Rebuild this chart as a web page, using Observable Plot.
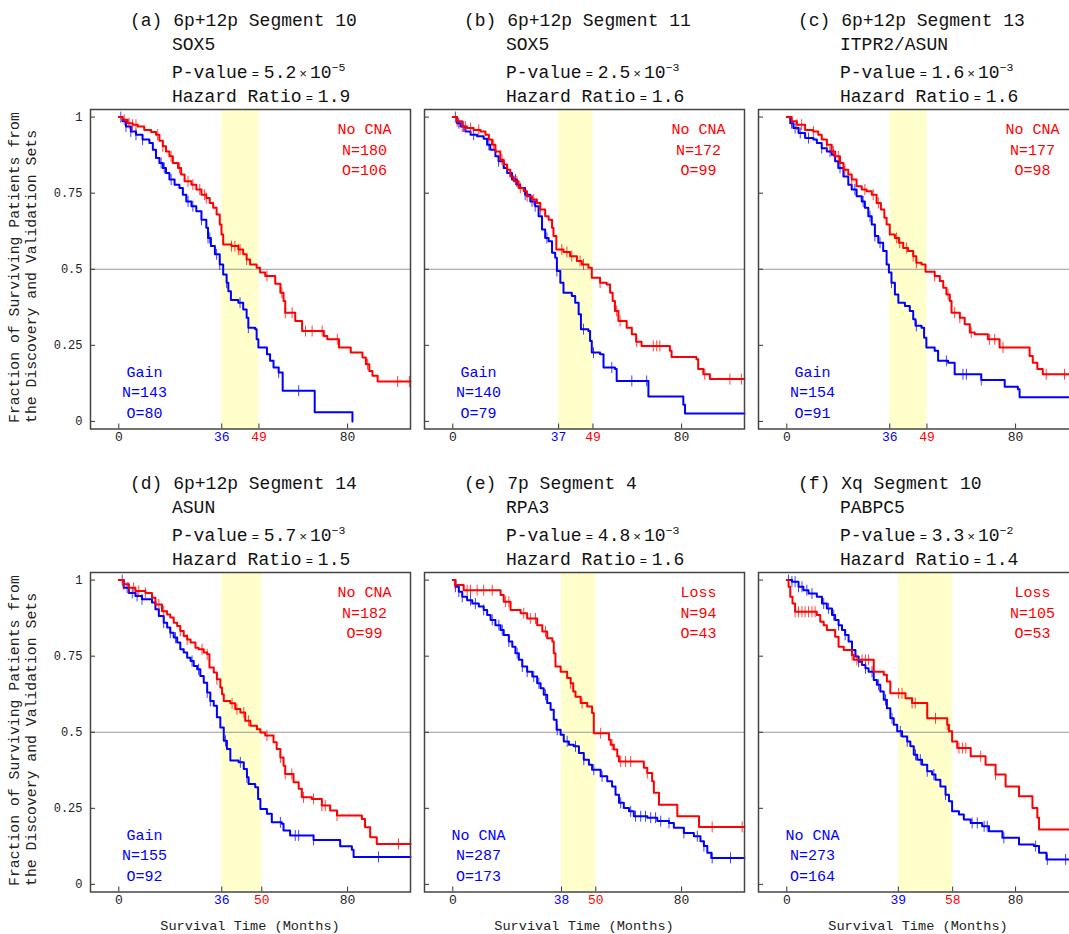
<!DOCTYPE html>
<html>
<head>
<meta charset="utf-8">
<script src="https://cdn.jsdelivr.net/npm/d3@7"></script>
<script src="https://cdn.jsdelivr.net/npm/@observablehq/plot@0.6"></script>
<style>
  html, body { margin: 0; padding: 0; background: #fff; overflow: hidden; }
  #chart { position: relative; width: 1069px; height: 934px; overflow: hidden; }
  #chart > svg { position: absolute; }
</style>
</head>
<body>
<div id="chart"></div>
<script>
// ---- Panel descriptors ----
const letters = ["a", "b", "c", "d", "e", "f"];
const segments = ["6p+12p Segment 10", "6p+12p Segment 11", "6p+12p Segment 13",
                  "6p+12p Segment 14", "7p Segment 4", "Xq Segment 10"];
const genes = ["SOX5", "SOX5", "ITPR2/ASUN", "ASUN", "RPA3", "PABPC5"];
const pMantissas = ["5.2", "2.5", "1.6", "5.7", "4.8", "3.3"];
const pExponents = ["\u22125", "\u22123", "\u22123", "\u22123", "\u22123", "\u22122"];
const hazardRatios = ["1.9", "1.6", "1.6", "1.5", "1.6", "1.4"];

const redGroups = ["No CNA", "No CNA", "No CNA", "No CNA", "Loss", "Loss"];
const redN = [180, 172, 177, 182, 94, 105];
const redO = [106, 99, 98, 99, 43, 53];
const blueGroups = ["Gain", "Gain", "Gain", "Gain", "No CNA", "No CNA"];
const blueN = [143, 140, 154, 155, 287, 273];
const blueO = [80, 79, 91, 92, 173, 164];

// median survival times of the two groups (shaded window)
const bandStart = [36, 37, 36, 36, 38, 39];
const bandEnd = [49, 49, 49, 50, 50, 58];

const xTicks = [0, 80];
const yTicks = [0, 0.25, 0.5, 0.75, 1];

// ---- Kaplan-Meier curves: [month, survival after the step] ----
const a_noCNA = [[0,1],[1.3,0.991],[3.1,0.98],[4.8,0.975],[6.6,0.969],[8.9,0.958],[11.3,0.951],[13,0.942],[14.2,0.922],[15.4,0.904],[16.5,0.887],[17.7,0.871],[18.9,0.849],[20.7,0.833],[21.8,0.811],[23,0.789],[25.4,0.778],[27.1,0.762],[28.9,0.745],[30.6,0.734],[31.8,0.718],[33,0.702],[34.2,0.68],[35.3,0.647],[35.9,0.614],[36.5,0.581],[39.4,0.576],[41.8,0.565],[43.5,0.549],[44.7,0.532],[45.9,0.516],[48.2,0.505],[49.4,0.489],[51.2,0.478],[54.7,0.452],[56.5,0.423],[57.6,0.396],[58.2,0.357],[61.7,0.33],[64.1,0.297],[71.7,0.281],[72.9,0.27],[77,0.243],[81.1,0.226],[85.2,0.21],[86.4,0.188],[87.6,0.166],[88.7,0.15],[90.5,0.131],[102,0.131]];
const a_gain = [[0,1],[1.3,0.986],[2.5,0.969],[4.2,0.953],[6,0.942],[8.3,0.926],[10.7,0.915],[11.9,0.893],[13,0.866],[14.2,0.849],[15.4,0.833],[16.5,0.816],[17.7,0.795],[19.5,0.778],[21.2,0.767],[22.4,0.745],[23.6,0.723],[25.4,0.707],[27.1,0.691],[28.9,0.663],[30.6,0.636],[31.2,0.603],[32.2,0.576],[33.6,0.549],[35.3,0.516],[36.5,0.483],[37.7,0.456],[38.3,0.428],[39.2,0.399],[41.8,0.39],[43.5,0.368],[44.7,0.341],[45.3,0.308],[47.7,0.303],[48.2,0.27],[48.8,0.243],[51.8,0.221],[52.9,0.199],[54.1,0.177],[55.9,0.161],[57.3,0.101],[68.5,0.03],[81.7,0]];
const b_noCNA = [[0,1],[1.5,0.986],[3.3,0.969],[5,0.964],[7.3,0.958],[9.7,0.953],[11.4,0.942],[12.6,0.926],[13.7,0.909],[14.9,0.887],[16.6,0.86],[17.8,0.844],[19,0.827],[20.1,0.805],[21.3,0.789],[23,0.767],[24.8,0.756],[25.9,0.74],[27.7,0.729],[29.4,0.718],[30.6,0.696],[32.3,0.674],[33.5,0.663],[34.7,0.636],[35.2,0.609],[36.2,0.565],[38.7,0.557],[41,0.543],[43.4,0.527],[45.1,0.516],[47.4,0.505],[48.6,0.472],[51.5,0.456],[53.8,0.45],[55,0.423],[55.9,0.396],[56.7,0.363],[57.9,0.33],[60.8,0.308],[62.6,0.286],[64.1,0.262],[66,0.248],[75.9,0.232],[76.5,0.212],[85.2,0.204],[85.8,0.172],[87.6,0.155],[89.9,0.139],[102,0.139]];
const b_gain = [[0,1],[1.5,0.98],[2.7,0.969],[4.4,0.953],[6.2,0.942],[8.5,0.937],[10.8,0.929],[12,0.909],[13.1,0.893],[14.9,0.871],[16,0.855],[17.8,0.833],[19,0.816],[20.7,0.795],[22.4,0.778],[23.6,0.767],[25.3,0.745],[27.1,0.723],[28.8,0.707],[30,0.674],[31.2,0.631],[32.3,0.603],[33.5,0.592],[34.7,0.554],[35.8,0.538],[36.4,0.494],[37.6,0.456],[38.7,0.423],[41.6,0.412],[42.8,0.39],[44,0.352],[44.8,0.303],[47.4,0.297],[48,0.264],[48.6,0.226],[51.5,0.221],[52.7,0.177],[56.7,0.172],[57.3,0.133],[68.4,0.082],[80.6,0.055],[81.2,0.026],[102,0.026]];
const c_noCNA = [[0,1],[1.7,0.986],[3.5,0.975],[6.4,0.958],[9.3,0.953],[11,0.942],[12.2,0.926],[14,0.909],[15.7,0.887],[16.9,0.871],[18.6,0.849],[19.8,0.827],[21.5,0.811],[22.7,0.795],[24.4,0.773],[26.2,0.762],[27.9,0.756],[29.7,0.745],[31.4,0.718],[32.9,0.696],[34.1,0.669],[34.9,0.647],[36,0.614],[37.8,0.603],[39.2,0.587],[40.7,0.57],[42.4,0.56],[44.2,0.543],[45.3,0.521],[47.1,0.516],[48.5,0.492],[51.7,0.478],[53.5,0.461],[54.7,0.439],[55.8,0.417],[57,0.396],[57.6,0.357],[60.5,0.341],[62.2,0.319],[64,0.292],[65.7,0.286],[70.3,0.27],[74.4,0.243],[84.9,0.215],[86,0.193],[87.6,0.172],[89.5,0.155],[102,0.155]];
const c_gain = [[0,1],[1.2,0.98],[2.3,0.964],[4.1,0.948],[6.4,0.931],[9.3,0.926],[10.5,0.915],[12.2,0.898],[14,0.887],[15.7,0.876],[16.9,0.855],[18,0.833],[19.8,0.805],[21.5,0.778],[22.7,0.762],[24.4,0.74],[26.2,0.723],[27.3,0.702],[28.5,0.674],[29.7,0.647],[30.8,0.609],[32,0.587],[33.7,0.56],[34.9,0.516],[35.7,0.489],[36.6,0.456],[37.8,0.417],[39,0.39],[41.3,0.379],[43,0.363],[44.2,0.336],[45,0.314],[47.1,0.308],[48,0.275],[48.8,0.243],[51.7,0.232],[52.9,0.199],[56.4,0.193],[58.7,0.155],[68,0.136],[76.2,0.114],[80.8,0.106],[81.4,0.079],[102,0.079]];
const d_noCNA = [[0,1],[1.7,0.986],[3.5,0.975],[5.8,0.964],[9.3,0.958],[11.6,0.942],[12.8,0.92],[15.1,0.898],[16.9,0.887],[18,0.877],[19.2,0.86],[20.4,0.849],[21.5,0.833],[22.7,0.816],[23.9,0.805],[25.1,0.795],[26.8,0.778],[27.9,0.773],[29.7,0.762],[30.9,0.756],[31.7,0.713],[33.2,0.696],[34.3,0.674],[35.5,0.647],[36.1,0.625],[36.7,0.603],[39,0.595],[40.7,0.576],[42.5,0.565],[44.2,0.538],[46,0.521],[48.3,0.51],[49.5,0.499],[51.2,0.489],[54.1,0.467],[55.2,0.445],[56.5,0.417],[57.6,0.39],[58.2,0.363],[61.1,0.336],[62.9,0.314],[64,0.286],[67.5,0.281],[71,0.259],[73.9,0.243],[76.3,0.226],[85,0.215],[86.1,0.188],[87.9,0.155],[90.2,0.133],[102,0.133]];
const d_gain = [[0,1],[1.7,0.975],[3.5,0.958],[5.8,0.948],[8.1,0.937],[11.6,0.926],[12.8,0.904],[14,0.882],[15.7,0.86],[16.9,0.844],[18,0.827],[19.2,0.811],[20.4,0.795],[21.5,0.773],[22.7,0.762],[23.9,0.745],[25.1,0.734],[26.2,0.718],[27.4,0.707],[28.5,0.685],[29.7,0.663],[30.9,0.631],[32,0.603],[33.2,0.587],[34.3,0.549],[35.5,0.516],[36.7,0.472],[37.8,0.445],[39,0.407],[41.9,0.401],[43.7,0.379],[44.8,0.352],[45.4,0.33],[47.7,0.319],[48.7,0.281],[49.5,0.248],[51.8,0.232],[53.5,0.204],[57,0.199],[57.6,0.177],[59.9,0.161],[68.1,0.146],[77.4,0.125],[81.5,0.114],[82.1,0.09],[102,0.09]];
const e_loss = [[0,1],[0.9,0.984],[3.8,0.967],[16.7,0.951],[17.8,0.929],[20.2,0.902],[23.7,0.891],[26,0.874],[29.5,0.852],[31.3,0.831],[33,0.809],[34.8,0.798],[35.3,0.76],[35.9,0.716],[37.7,0.699],[40,0.678],[41.2,0.661],[42.1,0.634],[42.9,0.617],[44.7,0.596],[47,0.585],[48.7,0.563],[49.3,0.497],[54.6,0.475],[55.2,0.459],[56.3,0.443],[57.5,0.421],[58.1,0.404],[66.8,0.383],[68,0.366],[69.7,0.339],[70.3,0.301],[72.1,0.262],[78.5,0.224],[86.1,0.189],[102,0.189]];
const e_noCNA = [[0,1],[0.9,0.978],[2.1,0.962],[3.3,0.945],[5,0.934],[6.8,0.923],[9.1,0.913],[10.8,0.902],[12,0.885],[13.2,0.869],[14.9,0.852],[16.7,0.836],[17.8,0.82],[19.6,0.798],[20.8,0.781],[21.9,0.76],[23.1,0.738],[24.3,0.716],[26,0.699],[27.8,0.683],[29.5,0.661],[30.7,0.645],[31.8,0.623],[33,0.596],[34.2,0.574],[35.3,0.541],[36.3,0.508],[37.7,0.492],[38.8,0.47],[40.6,0.459],[42.3,0.454],[44.1,0.432],[45.8,0.41],[47.6,0.393],[48.7,0.377],[51.7,0.355],[54,0.339],[55.7,0.322],[56.9,0.295],[58.1,0.268],[59.8,0.251],[61.6,0.24],[63.3,0.224],[68,0.219],[71.5,0.208],[75.6,0.202],[77.3,0.186],[80.8,0.169],[84.3,0.158],[86.6,0.142],[87.8,0.126],[89,0.104],[90.4,0.087],[102,0.087]];
const f_loss = [[0,1],[0.6,0.978],[1.2,0.945],[2,0.923],[2.9,0.896],[10.5,0.885],[11.7,0.863],[12.9,0.852],[14,0.836],[16.9,0.814],[18.1,0.781],[19.9,0.77],[22.8,0.754],[23.4,0.738],[30.4,0.699],[33.9,0.689],[35,0.667],[36.2,0.628],[41.5,0.612],[43.8,0.596],[49.1,0.546],[56.1,0.525],[56.7,0.503],[57.8,0.47],[59.6,0.448],[64.3,0.421],[69.5,0.393],[73,0.361],[76.5,0.322],[81.2,0.29],[85.9,0.251],[87.6,0.219],[88.2,0.18],[102,0.18]];
const f_noCNA = [[0,1],[1.8,0.995],[4.1,0.978],[5.8,0.967],[7.6,0.956],[10.5,0.945],[12.3,0.923],[14,0.907],[15.8,0.885],[16.9,0.869],[18.1,0.852],[19.3,0.836],[20.4,0.82],[21.6,0.798],[22.8,0.77],[24,0.749],[25.1,0.732],[26.3,0.721],[27.5,0.71],[28.6,0.699],[30.4,0.672],[31.5,0.656],[32.7,0.634],[33.9,0.607],[35,0.579],[36.2,0.546],[37.4,0.525],[38.6,0.503],[40.3,0.486],[42.1,0.47],[43.2,0.454],[44.4,0.426],[45.6,0.41],[47.3,0.393],[49.1,0.372],[50.8,0.361],[52,0.344],[53.7,0.322],[55.5,0.295],[56.7,0.273],[57.8,0.24],[60.2,0.23],[61.9,0.213],[64.3,0.202],[68.3,0.191],[70.7,0.175],[75.4,0.153],[81.2,0.131],[86.4,0.126],[88.2,0.104],[90.8,0.082],[102,0.082]];

// ---- Censoring times (months) ----
const a_noCNA_cens = [1.9,3.6,4.8,6,13.6,15.4,18.3,21.2,24.2,25.9,28.3,30,30.6,39.4,40.6,41.8,42.4,44.7,51.8,57,58.2,60.6,65.3,67.6,71.1,76.4,87,97.5,101.6];
const a_gain_cens = [0.7,2.5,4.2,6,8.3,14.8,15.9,18.3,24.2,25.9,28.9,31.2,31.8,34.2,35.3,37.7,42.4,45.3,55.9,62.9];
const b_noCNA_cens = [1.5,3.3,4.4,6.2,9.1,14.3,17.2,22.4,23.6,26,28.3,30.6,38.1,39.9,41.6,44.5,45.7,51.5,57.3,58.5,64.3,70.1,71.3,72.4,88.1,96.9,100.9];
const b_gain_cens = [0.9,2.1,3.8,7.3,12.6,16,21.9,25.3,27.7,28.8,32.9,36.4,45.7,49.2,55.6,62.6,67.8];
const c_noCNA_cens = [1.7,3.5,5.2,9.3,14,16.3,18,20.3,22.7,27.3,30.2,32,38.4,39.5,41.9,44.2,45.3,51.7,56.4,58.7,60.5,64.5,70.9,72.7,75.6,90.7,97.1];
const c_gain_cens = [1.7,2.9,4.7,7.6,12.2,15.1,18.6,23.8,26.7,29.1,30.8,32.6,36.6,45.3,55.8,61.6,62.8,68];
const d_noCNA_cens = [1.7,3.5,5.2,7,9.3,14,15.7,21.5,23.9,29.1,30.9,34.3,39.6,41.3,43.7,45.4,51.8,56.5,58.2,60.5,64.6,68.1,71,72.2,76.3,97.8,101.9];
const d_gain_cens = [1.2,2.9,4.7,6.4,8.1,15.7,18,19.8,25.6,27.9,30.9,32,37.3,42.5,44.8,56.5,61.7,62.9,68.1,90.8];
const e_loss_cens = [0.9,5,6.2,8.5,10.8,13.8,18.4,19.6,24.8,27.1,28.9,32.4,41.2,45.2,51.7,55.7,58.7,60.4,62.2,68,90.7,101.2];
const e_noCNA_cens = [0.9,2.1,3.3,6.2,7.9,10.8,13.8,16.1,17.3,19.6,22.5,24.3,26,28.3,30.1,32.4,36.5,40,42.9,45.8,49.3,52.2,58.7,62.2,63.9,65.7,67.4,69.2,70.9,72.7,75.6,80.8,85.5,87.8,90.7,97.1];
const f_loss_cens = [2.9,4.1,5.3,6.4,7.6,8.8,9.9,22.8,24.5,26.3,27.5,28.6,39.1,40.3,43.8,44.9,52,56.1,60.2,61.4,62.6,67.8,73];
const f_noCNA_cens = [0.6,1.8,2.9,4.1,5.3,7,8.8,12.9,14.6,16.4,18.1,20.4,22.8,25.1,27.5,29.8,32.1,34.5,36.8,39.7,42.1,45,46.7,49.1,51.4,55.5,64.8,66.6,69,70.1,75.9,87,91.1,97.5];

const redCurves = [a_noCNA, b_noCNA, c_noCNA, d_noCNA, e_loss, f_loss];
const blueCurves = [a_gain, b_gain, c_gain, d_gain, e_noCNA, f_noCNA];
const redCens = [a_noCNA_cens, b_noCNA_cens, c_noCNA_cens, d_noCNA_cens, e_loss_cens, f_loss_cens];
const blueCens = [a_gain_cens, b_gain_cens, c_gain_cens, d_gain_cens, e_noCNA_cens, f_noCNA_cens];

// ---- Layout ----
const FONT = '"Liberation Mono", "DejaVu Sans Mono", monospace';
const RED = "#ff0000", BLUE = "#0000ff";
const colLeft = [90, 424, 758];
const rowTop = [108.5, 571.5];
const rowShift = 463;
const FRAME_W = 320, FRAME_H = 319.5;
const ML = 45, MR = 6, MT = 6, MB = 26;

// survival value of a step curve at time t
function survAt(curve, t) {
  let s = curve[0][1];
  for (const [ti, si] of curve) { if (ti <= t) s = si; else break; }
  return s;
}

// vertical bar glyph for censored observations
const censorBar = {
  draw(ctx, size) {
    const h = Math.sqrt(size / Math.PI);
    ctx.moveTo(0, -h);
    ctx.lineTo(0, h);
  }
};

const chart = document.getElementById("chart");

letters.forEach((letter, i) => {
  const col = i % 3, row = Math.floor(i / 3);
  const marks = [
    Plot.rect([[bandStart[i], bandEnd[i]]], {x1: d => d[0], x2: d => d[1], fill: "#ffffcc"}),
    Plot.ruleY([0.5], {stroke: "#999", strokeWidth: 1.2}),
    Plot.axisY({ticks: yTicks, tickSize: -5, tickFormat: () => "", label: null, stroke: "#333"}),
    Plot.axisX({ticks: [xTicks[0], bandStart[i], bandEnd[i], xTicks[1]], tickSize: -5, tickFormat: () => "", label: null, stroke: "#333"}),
    Plot.text(xTicks, {x: d => d, frameAnchor: "bottom", dy: 12, text: d => String(d), fill: "#222", fontSize: 13, fontFamily: FONT}),
    Plot.text([bandStart[i]], {x: d => d, frameAnchor: "bottom", dy: 12, text: d => String(d), fill: BLUE, fontSize: 13, fontFamily: FONT}),
    Plot.text([bandEnd[i]], {x: d => d, frameAnchor: "bottom", dy: 12, text: d => String(d), fill: RED, fontSize: 13, fontFamily: FONT}),
    Plot.line(blueCurves[i], {x: d => d[0], y: d => d[1], curve: "step-after", stroke: BLUE, strokeWidth: 2}),
    Plot.dot(blueCens[i], {x: t => t, y: t => survAt(blueCurves[i], t), symbol: censorBar, r: 5.5, stroke: BLUE, strokeWidth: 1, fill: "none", strokeOpacity: 0.75}),
    Plot.line(redCurves[i], {x: d => d[0], y: d => d[1], curve: "step-after", stroke: RED, strokeWidth: 2}),
    Plot.dot(redCens[i], {x: t => t, y: t => survAt(redCurves[i], t), symbol: censorBar, r: 5.5, stroke: RED, strokeWidth: 1, fill: "none", strokeOpacity: 0.75}),
    Plot.text([`${redGroups[i]}\nN=${redN[i]}\nO=${redO[i]}`], {frameAnchor: "top-right", dx: -46, dy: 38.5, text: d => d, textAnchor: "middle", lineAnchor: "middle", lineHeight: 1.37, fill: RED, fontSize: 15, fontFamily: FONT}),
    Plot.text([`${blueGroups[i]}\nN=${blueN[i]}\nO=${blueO[i]}`], {frameAnchor: "bottom-left", dx: 54, dy: -38.5, text: d => d, textAnchor: "middle", lineAnchor: "middle", lineHeight: 1.37, fill: BLUE, fontSize: 15, fontFamily: FONT}),
    Plot.frame({stroke: "#444", strokeWidth: 1.5})
  ];
  if (col === 0) {
    marks.push(Plot.axisY({ticks: yTicks, tickSize: 0, tickPadding: 8, tickFormat: d => String(d), label: null, fontSize: 12, fontFamily: FONT, fill: "#222"}));
  }
  const svg = Plot.plot({
    width: FRAME_W + ML + MR,
    height: FRAME_H + MT + MB,
    marginLeft: ML, marginRight: MR, marginTop: MT, marginBottom: MB,
    x: {domain: [-9.9, 102]},
    y: {domain: [-0.025, 1.025]},
    style: {background: "transparent", overflow: "visible"},
    marks
  });
  svg.style.left = (colLeft[col] - ML) + "px";
  svg.style.top = (rowTop[row] - MT) + "px";
  chart.append(svg);
});

// ---- Titles and axis titles ----
const ov = d3.select(chart).append("svg")
  .attr("width", 1069).attr("height", 934)
  .style("left", "0px").style("top", "0px")
  .style("font-family", FONT).style("pointer-events", "none");

const titleSize = 18;
letters.forEach((letter, i) => {
  const col = i % 3, row = Math.floor(i / 3);
  const x0 = colLeft[col] + 40;
  const x1 = x0 + 42;
  const base = [26, 50, 77.5, 101.5].map(v => v + row * rowShift);
  const g = ov.append("g").attr("fill", "#111").attr("font-size", titleSize);
  g.append("text").attr("x", x0).attr("y", base[0]).text(`(${letter}) ${segments[i]}`);
  g.append("text").attr("x", x1).attr("y", base[1]).text(genes[i]);
  const p = g.append("text").attr("x", x1).attr("y", base[2]);
  p.append("tspan").text("P-value");
  p.append("tspan").attr("dx", 4).attr("font-size", 12).text("=");
  p.append("tspan").attr("dx", 5).text(pMantissas[i]);
  p.append("tspan").attr("dx", 3).attr("font-size", 13).text("\u00d7");
  p.append("tspan").attr("dx", 3).text("10");
  p.append("tspan").attr("dy", -7).attr("font-size", 11.5).text(pExponents[i]);
  const h = g.append("text").attr("x", x1).attr("y", base[3]);
  h.append("tspan").text("Hazard Ratio");
  h.append("tspan").attr("dx", 4).attr("font-size", 12).text("=");
  h.append("tspan").attr("dx", 5).text(hazardRatios[i]);
});

// y-axis title, one per row
const yTitleLines = ["Fraction of Surviving Patients from", "the Discovery and Validation Sets"];
[0, 1].forEach(row => {
  const yStart = 423 + row * rowShift;
  yTitleLines.forEach((line, k) => {
    const cx = [15, 32][k];
    ov.append("text")
      .attr("transform", `translate(${cx},${yStart}) rotate(-90)`)
      .attr("dominant-baseline", "central")
      .attr("font-size", 14.8).attr("fill", "#222")
      .text(line);
  });
});

// x-axis title under the bottom row
colLeft.forEach(left => {
  ov.append("text")
    .attr("x", left + FRAME_W / 2).attr("y", 926)
    .attr("text-anchor", "middle").attr("dominant-baseline", "central")
    .attr("font-size", 13.6).attr("fill", "#222")
    .text("Survival Time (Months)");
});
</script>
</body>
</html>
